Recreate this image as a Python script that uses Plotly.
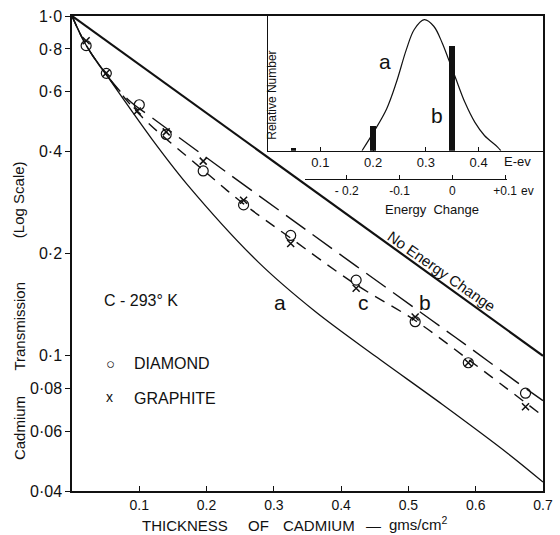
import math
import plotly.graph_objects as go

# ---------------- data ----------------
# main panel: cadmium thickness (g/cm^2) vs transmission (log scale)
no_change_x = [0.0, 0.7]
no_change_y = [1.0, 0.1]

curve_a_x = [0.0, 0.021, 0.05, 0.1185, 0.172, 0.2765, 0.3615, 0.45, 0.55, 0.6482, 0.70]
curve_a_y = [1.0, 0.82, 0.676, 0.435, 0.318, 0.189, 0.135, 0.1, 0.072, 0.0515, 0.0425]

curve_b_x = [0.0, 0.021, 0.05, 0.0845, 0.121, 0.1914, 0.3517, 0.534, 0.59, 0.658, 0.70]
curve_b_y = [1.0, 0.82, 0.676, 0.565, 0.4985, 0.394, 0.2318, 0.1274, 0.106, 0.0845, 0.0738]

curve_c_x = [0.0, 0.021, 0.05, 0.1016, 0.195, 0.255, 0.325, 0.42, 0.51, 0.589, 0.70]
curve_c_y = [1.0, 0.82, 0.676, 0.51, 0.352, 0.28, 0.222, 0.163, 0.127, 0.0975, 0.0665]

diamond_x = [0.021, 0.051, 0.100, 0.140, 0.195, 0.255, 0.325, 0.4223, 0.510, 0.589, 0.674]
diamond_y = [0.818, 0.678, 0.548, 0.448, 0.350, 0.278, 0.226, 0.167, 0.126, 0.0954, 0.0776]

graphite_x = [0.021, 0.051, 0.097, 0.140, 0.195, 0.255, 0.325, 0.4223, 0.510, 0.589, 0.674]
graphite_y = [0.846, 0.680, 0.525, 0.456, 0.374, 0.287, 0.214, 0.158, 0.130, 0.0954, 0.0708]

x_ticks = [0.1, 0.2, 0.3, 0.4, 0.5, 0.6, 0.7]
x_ticktext = ["0.1", "0.2", "0.3", "0.4", "0.5", "0.6", "0.7"]
y_ticks = [0.04, 0.06, 0.08, 0.1, 0.2, 0.4, 0.6, 0.8, 1.0]
y_ticktext = ["0·04", "0·06", "0·08", "0·1", "0·2", "0·4", "0·6", "0·8", "1·0"]

# inset: energy spectrum (relative number vs E in eV)
spec_e = [0.179, 0.201, 0.2256, 0.244, 0.263, 0.278, 0.297, 0.315, 0.331, 0.343,
          0.356, 0.374, 0.393, 0.411, 0.436, 0.442]
spec_n = [0.0, 0.138, 0.31, 0.506, 0.75, 0.90, 0.973, 0.924, 0.80, 0.678,
          0.543, 0.359, 0.21, 0.113, 0.027, 0.0]
bar_e = [0.0484, 0.1987, 0.349]
bar_n = [0.018, 0.187, 0.781]

inset_ticks = [0.1, 0.2, 0.3, 0.4]
inset_ticktext = ["0.1", "0.2", "0.3", "0.4"]
dE_ticks = [-0.2, -0.1, 0.0, 0.1]
dE_ticktext = ["- 0.2", "-0.1", "0", "+0.1"]

# ---------------- layout helpers ----------------
W, H = 560, 535
L, R, T, B = 72, 7, 16, 44
PW, PH = W - L - R, H - T - B
FONT = "Liberation Sans, Arial, sans-serif"
INK = "#111111"


def fx(p):
    return (p - L) / PW


def fy(p):
    return (H - B - p) / PH


fig = go.Figure()

fig.add_trace(go.Scatter(x=no_change_x, y=no_change_y, mode="lines",
                         line=dict(color=INK, width=2.2), showlegend=False))
fig.add_trace(go.Scatter(x=curve_a_x, y=curve_a_y, mode="lines", line_shape="spline",
                         line=dict(color=INK, width=1.3, smoothing=0.9), showlegend=False))
fig.add_trace(go.Scatter(x=curve_b_x, y=curve_b_y, mode="lines", line_shape="spline",
                         line=dict(color=INK, width=1.4, dash="24px,9px"), showlegend=False))
fig.add_trace(go.Scatter(x=curve_c_x, y=curve_c_y, mode="lines", line_shape="spline",
                         line=dict(color=INK, width=1.4, dash="11px,8px"), showlegend=False))
fig.add_trace(go.Scatter(x=diamond_x, y=diamond_y, mode="markers", name="DIAMOND",
                         marker=dict(symbol="circle-open", size=10, color=INK,
                                     line=dict(width=1.2, color=INK)), showlegend=False))
fig.add_trace(go.Scatter(x=graphite_x, y=graphite_y, mode="markers", name="GRAPHITE",
                         marker=dict(symbol="x-thin", size=7, color=INK,
                                     line=dict(width=1.5, color=INK)), showlegend=False))

# inset
fig.add_trace(go.Scatter(x=spec_e, y=spec_n, mode="lines", line_shape="spline",
                         line=dict(color=INK, width=1.2), xaxis="x2", yaxis="y2",
                         showlegend=False))
fig.add_trace(go.Bar(x=bar_e, y=bar_n, width=0.011, marker=dict(color=INK, line=dict(width=0)),
                     xaxis="x2", yaxis="y2", showlegend=False))
# carrier for the energy-change axis
fig.add_trace(go.Scatter(x=[0.0], y=[-5], mode="markers", marker=dict(opacity=0),
                         xaxis="x3", yaxis="y3", showlegend=False, hoverinfo="skip"))

axis_common = dict(showgrid=False, zeroline=False, linecolor=INK, tickcolor=INK,
                   showline=True)

fig.update_layout(
    width=W, height=H,
    margin=dict(l=L, r=R, t=T, b=B, pad=0),
    paper_bgcolor="white", plot_bgcolor="rgba(0,0,0,0)",
    font=dict(family=FONT, color=INK),
    showlegend=False,
    bargap=0,
    xaxis=dict(axis_common, domain=[0, 1], range=[0, 0.7], linewidth=1.5, mirror=True,
               ticks="inside", ticklen=5, tickwidth=1, tickvals=x_ticks, ticktext=x_ticktext,
               tickfont=dict(size=14, family=FONT, color=INK)),
    yaxis=dict(axis_common, type="log", domain=[0, 1], range=[math.log10(0.04), 0.0],
               linewidth=1.5, mirror=True, ticks="outside", ticklen=5, tickwidth=1,
               tickvals=y_ticks, ticktext=y_ticktext,
               tickfont=dict(size=16, family=FONT, color=INK)),
    xaxis2=dict(axis_common, domain=[fx(271.7), 1], range=[0, 0.522], anchor="y2",
                linewidth=1.3, ticks="inside", ticklen=4, tickvals=inset_ticks,
                ticktext=inset_ticktext, tickfont=dict(size=13, family=FONT, color=INK)),
    yaxis2=dict(axis_common, domain=[fy(150.7), 1], range=[0, 1.0], anchor="x2",
                linewidth=1.3, ticks="", showticklabels=False),
    xaxis3=dict(axis_common, domain=[fx(310), fx(516.7)], range=[-0.2789, 0.1045],
                anchor="free", position=fy(179), linewidth=1.2, ticks="inside",
                ticklen=4, tickvals=dE_ticks, ticktext=dE_ticktext,
                tickfont=dict(size=12, family=FONT, color=INK)),
    yaxis3=dict(domain=[fy(150.7), 1], range=[0, 1], anchor="x3", visible=False),
)


def note(text, px, py, size=15, angle=0, xanchor="center"):
    fig.add_annotation(text=text, x=fx(px), y=fy(py), xref="paper", yref="paper",
                       showarrow=False, textangle=angle, xanchor=xanchor, yanchor="middle",
                       font=dict(size=size, family=FONT, color=INK))


# main panel labels
note("C - 293° K", 142.5, 300, size=16)
note("○", 111.7, 363.3, size=15)
note("DIAMOND", 133, 363.3, size=16, xanchor="left")
note("x", 110, 397, size=14)
note("GRAPHITE", 133, 398, size=16, xanchor="left")
note("a", 284, 302, size=21)
note("c", 370, 302, size=21)
note("b", 433, 302, size=21)
note("No Energy Change", 450, 271, size=15, angle=35)

# inset labels
note("a", 391.7, 62, size=21)
note("b", 445, 115, size=21)
note("Relative Number", 276, 95, size=12, angle=-90)
note("E-ev", 526.7, 161.7, size=13)
note("ev", 537, 191, size=12)
note("Energy  Change", 440, 210, size=13)

# axis titles
note("(Log Scale)", 17, 200, size=15, angle=-90)
note("Transmission", 18, 326.5, size=15, angle=-90)
note("Cadmium", 18, 428, size=15, angle=-90)
note("THICKNESS", 187.5, 525, size=15)
note("OF", 262.5, 525, size=15)
note("CADMIUM", 324.5, 525, size=15)
note("—", 379.5, 525, size=15)
note("gms/cm<sup>2</sup>", 426, 523, size=15)

fig.write_html("out.html", config={"displayModeBar": False},
               post_script="document.body.style.margin='0px';document.body.style.padding='0px';")
